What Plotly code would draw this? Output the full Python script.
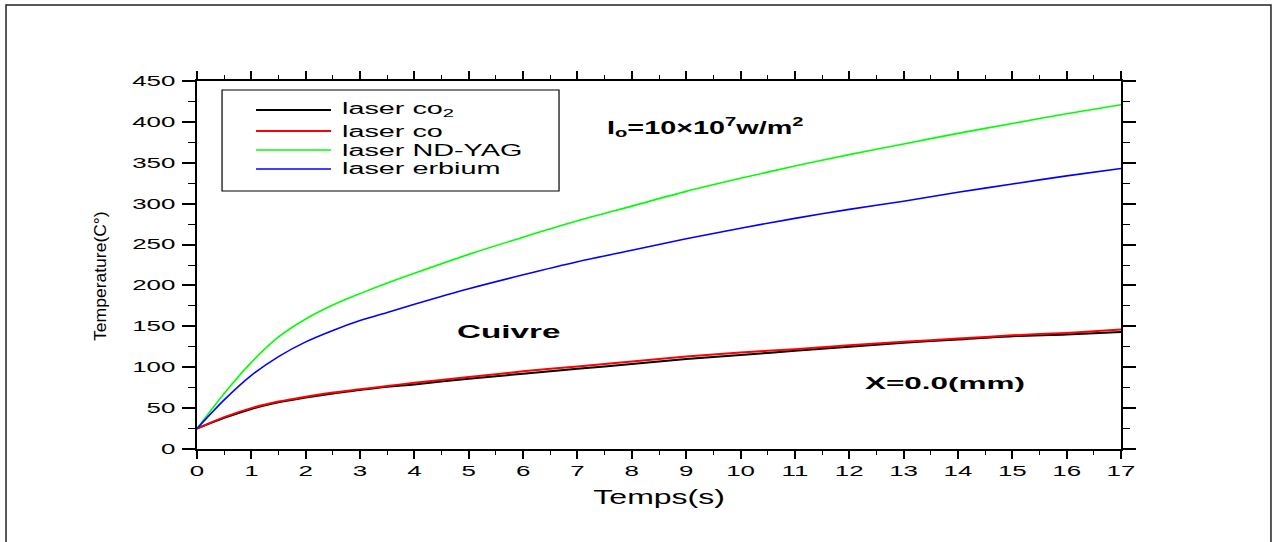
import json
import plotly.graph_objects as go

# Temps (s)
t = [0, 0.5, 1, 1.5, 2, 2.5, 3, 3.5, 4, 5, 6, 7, 8, 9, 10, 11, 12, 13, 14, 15, 16, 17]

# Température (°C) pour chaque laser, cuivre, X = 0.0 mm
temp_co2 = [25, 38, 49, 57, 63, 68, 72, 76, 79, 86, 92, 98, 104, 110, 115, 120, 125, 130, 134, 138, 140, 143]
temp_co = [25, 39, 50, 58, 64, 69, 73, 77, 81, 88, 95, 101, 107, 113, 118, 122, 127, 131, 135, 139, 142, 146]
temp_ndyag = [25, 68, 106, 137, 159, 176, 190, 203, 215, 238, 259, 279, 297, 315, 331, 346, 360, 373, 386, 398, 410, 421]
temp_erbium = [25, 60, 90, 113, 131, 145, 157, 167, 177, 196, 213, 229, 243, 257, 270, 282, 293, 303, 314, 324, 334, 343]

series_names = ["laser co<sub>2</sub>", "laser co", "laser ND-YAG", "laser erbium"]
series_values = [temp_co2, temp_co, temp_ndyag, temp_erbium]
series_colors = ["#000000", "#ff0000", "#00ff00", "#0000ff"]
series_widths = [2, 2, 1.6, 1.6]

x_ticks = list(range(0, 18))
y_ticks = list(range(0, 451, 50))

FONT = "Liberation Sans, Arial, sans-serif"

fig = go.Figure()
for name, vals, col, w in zip(series_names, series_values, series_colors, series_widths):
    fig.add_trace(go.Scatter(
        x=t, y=vals, mode="lines", name=name, showlegend=False,
        line=dict(color=col, width=w, shape="spline", smoothing=0.8),
    ))

axis_common = dict(
    showgrid=False, zeroline=False, showline=True, linecolor="#000", linewidth=1.6,
    mirror="ticks", ticks="outside", tickcolor="#000", tickwidth=1.5,
    tickfont=dict(family=FONT, size=14, color="#000"),
)
fig.update_xaxes(
    range=[0, 17], tickvals=x_ticks, ticklen=8,
    minor=dict(dtick=0.5, ticks="outside", ticklen=4, tickcolor="#000", tickwidth=1.2),
    **axis_common,
)
fig.update_yaxes(
    range=[0, 450], tickvals=y_ticks, ticklen=13, ticklabelstandoff=4,
    minor=dict(dtick=25, ticks="outside", ticklen=7, tickcolor="#000", tickwidth=1.2),
    **axis_common,
)

shapes = []
annotations = []
stretch = []

# outer frame
shapes.append(dict(type="rect", xref="paper", yref="paper",
                   x0=-0.2067, x1=1.1623, y0=-0.27, y1=1.2065,
                   line=dict(color="#222", width=1.5), layer="below"))

# legend box with line samples
shapes.append(dict(type="rect", xref="paper", yref="paper",
                   x0=0.0271, x1=0.3918, y0=0.7011, y1=0.9755,
                   line=dict(color="#000", width=1.2), fillcolor="rgba(0,0,0,0)"))
legend_rows = [0.9212, 0.8641, 0.8125, 0.7609]
for name, col, w, yr in zip(series_names, series_colors, series_widths, legend_rows):
    shapes.append(dict(type="line", xref="paper", yref="paper",
                       x0=0.0639, x1=0.1450, y0=yr, y1=yr,
                       line=dict(color=col, width=w)))
    annotations.append(dict(text=name, xref="paper", yref="paper", x=0.1548, y=yr,
                            xanchor="left", yanchor="middle", align="left", showarrow=False,
                            font=dict(family=FONT, size=16, color="#000")))
    stretch.append(1.8)

# axis titles
annotations.append(dict(text="Temps(s)", xref="paper", yref="paper", x=0.5, y=-0.1304,
                        xanchor="center", yanchor="middle", showarrow=False,
                        font=dict(family=FONT, size=20, color="#000")))
stretch.append(1.6)
annotations.append(dict(text="Temperature(C°)", xref="paper", yref="paper", x=-0.105, y=0.47,
                        xanchor="center", yanchor="middle", textangle=-90, showarrow=False,
                        font=dict(family=FONT, size=17, color="#000")))
stretch.append(1.03)

# labels inside the plot
labels = [
    ("<b>I<sub>o</sub>=10×10<sup>7</sup>w/m<sup>2</sup></b>", 0.4416, 0.8723, 18, 1.6),
    ("<b>Cuivre</b>", 0.2792, 0.318, 19, 1.75),
    ("<b>X=0.0(mm)</b>", 0.7208, 0.1793, 17, 1.85),
]
for txt, xp, yp, fs, k in labels:
    annotations.append(dict(text=txt, xref="paper", yref="paper", x=xp, y=yp,
                            xanchor="left", yanchor="middle", align="left", showarrow=False,
                            font=dict(family=FONT, size=fs, color="#000")))
    stretch.append(k)

fig.update_layout(
    width=1273, height=542,
    margin=dict(l=197, r=152, t=81, b=93),
    paper_bgcolor="#fff", plot_bgcolor="#fff",
    shapes=shapes, annotations=annotations, showlegend=False,
)

# widen the glyphs horizontally once the plot is drawn
cfg = {"xtick": 1.85, "ytick": 1.85, "ann": stretch}
post = """
(function(){
  var gd = document.getElementById('{plot_id}');
  var cfg = CFG;
  function fit(t, k){
    if(!t || !k) return;
    var w0 = t.getAttribute('data-w0');
    if(w0 === null){ w0 = t.getComputedTextLength(); t.setAttribute('data-w0', w0); }
    t.setAttribute('textLength', (parseFloat(w0) * k).toFixed(2));
    t.setAttribute('lengthAdjust', 'spacingAndGlyphs');
  }
  function run(){
    gd.querySelectorAll('g.xtick > text').forEach(function(t){ fit(t, cfg.xtick); });
    gd.querySelectorAll('g.ytick > text').forEach(function(t){ fit(t, cfg.ytick); });
    gd.querySelectorAll('g.annotation').forEach(function(g){
      var i = +g.getAttribute('data-index');
      fit(g.querySelector('text.annotation-text'), cfg.ann[i]);
    });
  }
  run();
  gd.on('plotly_afterplot', run);
})();
""".replace("CFG", json.dumps(cfg))

fig.write_html("out.html", post_script=post, config={"displayModeBar": False})
